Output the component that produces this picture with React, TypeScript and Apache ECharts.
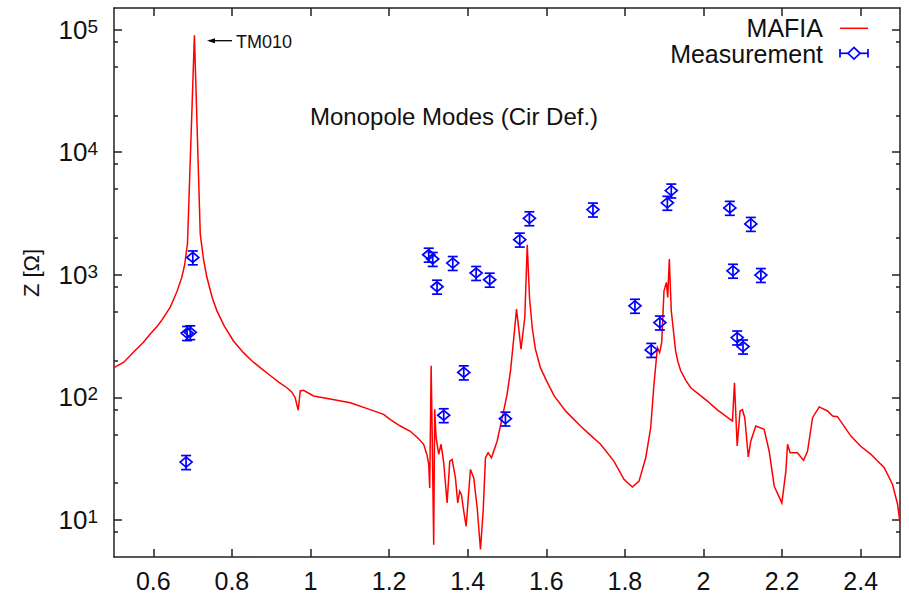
import React, { useEffect, useRef } from 'react';
import * as echarts from 'echarts';

// ---- axis ticks ----
const xTicks = [0.6, 0.8, 1.0, 1.2, 1.4, 1.6, 1.8, 2.0, 2.2, 2.4];
const yDecadeExps = [1, 2, 3, 4, 5];
const yMinorTicks = [8, 20, 50, 80, 200, 500, 800, 2000, 5000, 8000, 20000, 50000, 80000];
const xMin = 0.5;
const xMax = 2.5;
const yMin = 5;
const yMax = 150000;

// ---- MAFIA simulation (frequency GHz, impedance Ohm) ----
const mafiaX = [
  0.5, 0.525, 0.55, 0.575, 0.5917, 0.61, 0.62, 0.6427, 0.66, 0.6725, 0.68, 0.687, 0.7046,
  0.7195, 0.728, 0.7362, 0.75, 0.7617, 0.78, 0.804, 0.83, 0.85, 0.872, 0.9, 0.92, 0.94, 0.952,
  0.9611, 0.9688, 0.9739, 0.9823, 1.0078, 1.05, 1.1013, 1.15,
  1.1861, 1.2032, 1.2287, 1.254, 1.275, 1.288, 1.2965, 1.3008, 1.3033, 1.307, 1.3095, 1.3135,
  1.316, 1.3196, 1.3262, 1.3323, 1.339, 1.3476, 1.3543, 1.3604, 1.3688, 1.3747, 1.3797, 1.384,
  1.39, 1.396, 1.407, 1.4154, 1.4241, 1.4325, 1.4393, 1.4452, 1.452, 1.4605, 1.475, 1.4878,
  1.5, 1.5089, 1.5173, 1.5242, 1.5357, 1.5453, 1.5515, 1.5573, 1.5642, 1.572, 1.585, 1.6, 1.62,
  1.65, 1.687, 1.71, 1.738, 1.772, 1.7976, 1.819, 1.836, 1.853, 1.8656, 1.874, 1.8827, 1.8885,
  1.8936, 1.8995, 1.9056, 1.909, 1.913, 1.918, 1.929, 1.935, 1.942, 1.955, 1.9675, 1.99, 2.01,
  2.0344, 2.0737, 2.0788, 2.0857, 2.093, 2.099, 2.105, 2.114, 2.1204, 2.1331, 2.1543, 2.167,
  2.18, 2.1994, 2.2096, 2.2138, 2.2205, 2.239, 2.2546, 2.2648, 2.2775, 2.2944, 2.3157, 2.3285,
  2.341, 2.375, 2.40, 2.426, 2.46, 2.481, 2.494, 2.5,
];
const mafiaZ = [
  175, 194, 235, 282, 328, 380, 420, 542, 728, 953, 1220, 1800, 89800,
  2150, 1325, 960, 650, 511, 385, 289, 231, 200, 175, 149, 133, 120, 111,
  99.5, 78.6, 113, 114.5, 102.8, 97, 90.6, 80,
  72.9, 66, 58.5, 53, 46, 41.5, 34, 28.5, 18.3, 181, 53, 6.3,
  80, 47, 34.4, 41.5, 29.3, 13.8, 30.3, 31.2, 22.1, 13.8, 17.2, 16.2,
  11.8, 8.9, 25.9, 22.1, 12.6, 5.75, 11.8, 32.2, 35.4, 32.2, 44.2, 68.4,
  105, 165, 306, 525, 248, 449, 1762, 650, 372, 250, 175, 138, 103,
  77, 58.5, 50, 41.5, 30.3, 21.5, 18.6, 20.8, 32.2, 56.6, 128, 255, 232,
  280, 741, 867, 653, 1346, 509, 240, 195, 165, 138, 120, 105, 93.5,
  79.5, 64.3, 132, 40.2, 77.6, 79.5, 68.4, 32.7, 44.2, 58.5, 55, 36.6,
  18.9, 13.8, 25.1, 41.5, 35.4, 35.4, 30.7, 36.6, 68.4, 83.7, 77.6, 70.6,
  69.7, 48.4, 40, 34.4, 26.7, 19.5, 13.4, 9.5,
];

// ---- Measurement (frequency GHz, impedance Ohm, error Ohm) ----
const measX = [
  0.6834, 0.686, 0.694, 0.7005, 1.3008, 1.311, 1.322, 1.339, 1.362, 1.39, 1.4215, 1.456,
  1.496, 1.5325, 1.557, 1.7187, 1.8256, 1.867, 1.889, 1.908, 1.918, 2.067, 2.075, 2.0857,
  2.1006, 2.1204, 2.146,
];
const measZ = [
  29.7, 335, 340, 1387, 1459, 1346, 800, 71.6, 1248, 160, 1035, 912,
  67.2, 1936, 2890, 3405, 559, 244, 408, 3865, 4865, 3515, 1079, 308,
  260, 2600, 996,
];
const measErr = [
  3.9, 44, 44, 180, 190, 175, 104, 9.3, 162, 21, 135, 119,
  8.7, 252, 376, 443, 73, 32, 53, 502, 632, 457, 140, 40,
  34, 338, 129,
];

const FONT = "'Liberation Sans', Arial, Helvetica, sans-serif";
const AXIS_COLOR = '#222';
const TEXT_COLOR = '#111';
const BLUE = '#0000ff';
const RED = '#ff0000';

export default function App() {
  const ref = useRef<HTMLDivElement>(null);

  useEffect(() => {
    if (!ref.current) return;
    const chart = echarts.init(ref.current, null, { renderer: 'svg' });
    const L = Math.log10;

    const curve = mafiaX.map((x, i) => [x, L(mafiaZ[i])]);
    const meas = measX.map((x, i) => [
      x,
      L(measZ[i]),
      L(measZ[i] - measErr[i]),
      L(measZ[i] + measErr[i]),
    ]);

    const lineStyle = { color: AXIS_COLOR, width: 1.5 };
    const xBase: any = {
      type: 'value',
      min: xMin,
      max: xMax,
      splitLine: { show: false },
      axisLine: { show: true, onZero: false, lineStyle },
      axisTick: { show: true, inside: true, length: 8, customValues: xTicks, lineStyle },
    };
    const yBase: any = {
      type: 'value',
      min: L(yMin),
      max: L(yMax),
      splitLine: { show: false },
    };
    const majorY = yDecadeExps.slice();
    const minorY = yMinorTicks.map((v) => L(v));

    const stroke = { stroke: BLUE, lineWidth: 1.7, fill: 'none' };

    chart.setOption({
      animation: false,
      backgroundColor: '#ffffff',
      grid: { left: 114, right: 9, top: 8, bottom: 47, containLabel: false },
      xAxis: [
        {
          ...xBase,
          position: 'bottom',
          axisLabel: {
            customValues: xTicks,
            formatter: (v: number) => String(parseFloat(v.toFixed(1))),
            fontSize: 25,
            fontFamily: FONT,
            color: TEXT_COLOR,
            margin: 11,
          },
        },
        { ...xBase, position: 'top', axisLabel: { show: false } },
      ],
      yAxis: [
        {
          ...yBase,
          position: 'left',
          axisLine: { show: true, onZero: false, lineStyle },
          axisTick: { show: true, inside: true, length: 8, customValues: majorY, lineStyle },
          axisLabel: {
            customValues: majorY,
            margin: 16,
            formatter: (v: number) => `{b|10}{s|${Math.round(v)}}`,
            rich: {
              b: { fontSize: 26, lineHeight: 26, fontFamily: FONT, color: TEXT_COLOR, verticalAlign: 'bottom' },
              s: {
                fontSize: 19,
                lineHeight: 19,
                fontFamily: FONT,
                color: TEXT_COLOR,
                verticalAlign: 'top',
                padding: [0, 0, 11, 0],
              },
            },
          },
        },
        {
          ...yBase,
          position: 'left',
          axisLine: { show: false },
          axisTick: { show: true, inside: true, length: 4, customValues: minorY, lineStyle },
          axisLabel: { show: false },
        },
        {
          ...yBase,
          position: 'right',
          axisLine: { show: true, onZero: false, lineStyle },
          axisTick: { show: true, inside: true, length: 8, customValues: majorY, lineStyle },
          axisLabel: { show: false },
        },
        {
          ...yBase,
          position: 'right',
          axisLine: { show: false },
          axisTick: { show: true, inside: true, length: 4, customValues: minorY, lineStyle },
          axisLabel: { show: false },
        },
      ],
      series: [
        {
          name: 'MAFIA',
          type: 'line',
          xAxisIndex: 0,
          yAxisIndex: 0,
          data: curve,
          showSymbol: false,
          symbol: 'none',
          smooth: false,
          clip: true,
          lineStyle: { color: RED, width: 1.5, join: 'miter' },
          z: 2,
        },
        {
          name: 'Measurement',
          type: 'custom',
          xAxisIndex: 0,
          yAxisIndex: 0,
          coordinateSystem: 'cartesian2d',
          encode: { x: 0, y: 1 },
          data: meas,
          z: 3,
          renderItem: (params: any, api: any) => {
            const x = api.value(0);
            const p = api.coord([x, api.value(1)]);
            const lo = api.coord([x, api.value(2)]);
            const hi = api.coord([x, api.value(3)]);
            return {
              type: 'group',
              children: [
                { type: 'line', shape: { x1: p[0], y1: lo[1], x2: p[0], y2: hi[1] }, style: stroke },
                { type: 'line', shape: { x1: p[0] - 5, y1: lo[1], x2: p[0] + 5, y2: lo[1] }, style: stroke },
                { type: 'line', shape: { x1: p[0] - 5, y1: hi[1], x2: p[0] + 5, y2: hi[1] }, style: stroke },
                {
                  type: 'polygon',
                  shape: {
                    points: [
                      [p[0] - 6, p[1]],
                      [p[0], p[1] - 5],
                      [p[0] + 6, p[1]],
                      [p[0], p[1] + 5],
                    ],
                  },
                  style: stroke,
                },
              ],
            };
          },
        },
      ],
      graphic: [
        // y axis name
        {
          type: 'text',
          x: 31,
          y: 273,
          rotation: Math.PI / 2,
          style: {
            text: 'Z [Ω]',
            fontSize: 22,
            fontFamily: FONT,
            fill: TEXT_COLOR,
            align: 'center',
            verticalAlign: 'middle',
          },
        },
        // plot title
        {
          type: 'text',
          x: 310,
          y: 116,
          style: {
            text: 'Monopole Modes (Cir Def.)',
            fontSize: 24,
            fontFamily: FONT,
            fill: TEXT_COLOR,
            align: 'left',
            verticalAlign: 'middle',
          },
        },
        // TM010 annotation
        {
          type: 'line',
          shape: { x1: 232, y1: 40.7, x2: 212, y2: 40.7 },
          style: { stroke: '#000', lineWidth: 1.3 },
        },
        {
          type: 'polygon',
          shape: { points: [[207, 40.7], [215, 38.2], [215, 43.2]] },
          style: { fill: '#000' },
        },
        {
          type: 'text',
          x: 236,
          y: 41.5,
          style: {
            text: 'TM010',
            fontSize: 18,
            fontFamily: FONT,
            fill: TEXT_COLOR,
            align: 'left',
            verticalAlign: 'middle',
          },
        },
        // legend
        {
          type: 'text',
          x: 823,
          y: 28,
          style: {
            text: 'MAFIA',
            fontSize: 25,
            lineHeight: 23,
            fontFamily: FONT,
            fill: TEXT_COLOR,
            align: 'right',
            verticalAlign: 'middle',
          },
        },
        {
          type: 'line',
          shape: { x1: 840, y1: 28.3, x2: 868, y2: 28.3 },
          style: { stroke: RED, lineWidth: 1.5 },
        },
        {
          type: 'text',
          x: 823,
          y: 54,
          style: {
            text: 'Measurement',
            fontSize: 25,
            lineHeight: 23,
            fontFamily: FONT,
            fill: TEXT_COLOR,
            align: 'right',
            verticalAlign: 'middle',
          },
        },
        { type: 'line', shape: { x1: 840, y1: 53.3, x2: 868, y2: 53.3 }, style: { stroke: BLUE, lineWidth: 1.7 } },
        { type: 'line', shape: { x1: 840, y1: 49, x2: 840, y2: 57.6 }, style: { stroke: BLUE, lineWidth: 1.7 } },
        { type: 'line', shape: { x1: 868, y1: 49, x2: 868, y2: 57.6 }, style: { stroke: BLUE, lineWidth: 1.7 } },
        {
          type: 'polygon',
          shape: { points: [[848, 53.3], [854, 47.5], [860, 53.3], [854, 59.1]] },
          style: { stroke: BLUE, lineWidth: 1.7, fill: '#fff' },
        },
      ],
    });

    return () => {
      chart.dispose();
    };
  }, []);

  return (
    <div
      ref={ref}
      style={{ position: 'fixed', left: 0, top: 0, width: 909, height: 604, background: '#fff' }}
    />
  );
}
